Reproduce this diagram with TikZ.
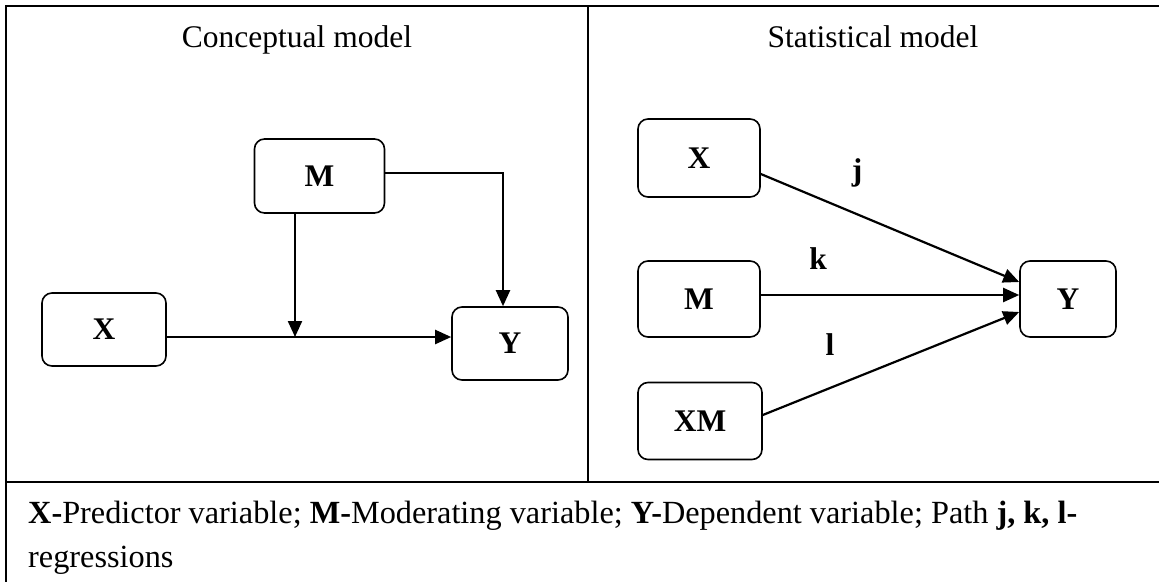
\documentclass[tikz,border=0pt]{standalone}
\usepackage{fontspec}
\setmainfont{Liberation Serif}
\usetikzlibrary{arrows.meta}
\begin{document}
\begin{tikzpicture}[x=1pt,y=-1pt,
  every node/.style={font=\fontsize{31.5}{44}\selectfont},
  box/.style={draw,line width=1.6pt,rounded corners=10pt,inner sep=0pt,font=\fontsize{31.5}{44}\selectfont\bfseries},
  conn/.style={line width=2.2pt,-{Triangle[length=16pt,width=14pt]}},
  frame/.style={line width=2pt},
  lbl/.style={font=\fontsize{31.5}{44}\selectfont\bfseries},
  captext/.style={anchor=base west,inner sep=0pt,font=\fontsize{32.3}{44}\selectfont}]
\useasboundingbox (0,0) rectangle (1159,581);
% frame
\draw[frame] (6,582) -- (6,6) -- (1160,6);
\draw[frame] (6,482) -- (1160,482);
\draw[line width=1.5pt] (588,6) -- (588,482);
% titles
\node[anchor=base] (t1) at (297,47) {Conceptual model};
\node[anchor=base] (t2) at (873,47) {Statistical model};
% conceptual model
\node[box,minimum width=130pt,minimum height=74pt] (M) at (319.5,176) {M};
\node[box,minimum width=124pt,minimum height=73pt] (X) at (104,329.5) {X};
\node[box,minimum width=116pt,minimum height=73pt] (Y) at (510,343.5) {Y};
\coordinate (xy) at (295,337);
\coordinate (mr) at (503,173);
\draw[conn] (X.east |- xy) -- (Y.west |- xy);
\draw[conn] (M.south -| xy) -- (xy);
\draw[conn] (M.east |- mr) -| (Y.north -| mr);
% statistical model
\node[box,minimum width=122pt,minimum height=78pt] (X2) at (699,158) {X};
\node[box,minimum width=122pt,minimum height=76pt] (M2) at (699,299) {M};
\node[box,minimum width=124pt,minimum height=77pt] (XM) at (700,421) {XM};
\node[box,minimum width=96pt,minimum height=76pt] (Y2) at (1068,299) {Y};
\draw[conn] ([yshift=-16pt]X2.east) -- ([yshift=17pt]Y2.west);
\draw[conn] ([yshift=4pt]M2.east) -- ([yshift=4pt]Y2.west);
\draw[conn] ([yshift=6pt]XM.east) -- ([yshift=-13pt]Y2.west);
\node[lbl] (lj) at (857,173) {j};
\node[lbl] (lk) at (818,259) {k};
\node[lbl] (ll) at (830,345) {l};
% caption
\node[captext] (c1) at (28,523) {\textbf{X-}Predictor variable; \textbf{M-}Moderating variable; \textbf{Y-}Dependent variable; Path \textbf{j, k, l-}};
\node[captext] (c2) at (28,567) {regressions};
\end{tikzpicture}
\end{document}
